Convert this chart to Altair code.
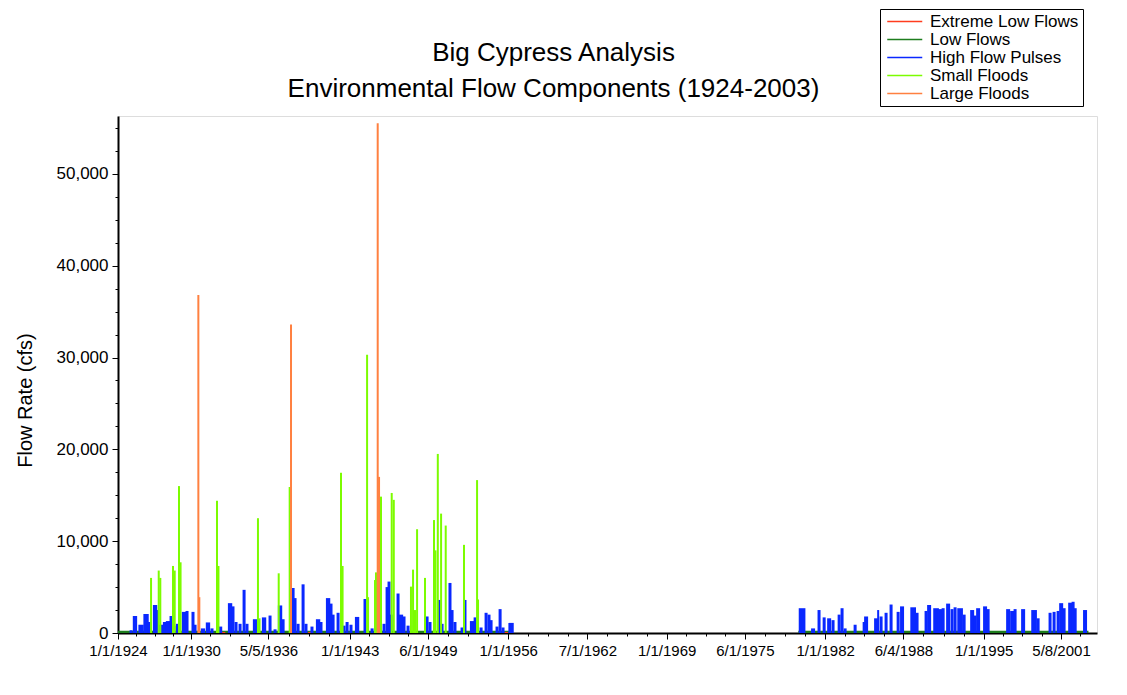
import altair as alt
import numpy as np
import pandas as pd

# ---------------- data ----------------
CATEGORIES = ["Extreme Low Flows", "Low Flows", "High Flow Pulses", "Small Floods", "Large Floods"]
COLORS = ["#FF3C1E", "#1E7D1E", "#0A28FF", "#7CFC00", "#FF8040"]

# High flow pulses, 1924-1956 (decimal year, peak cfs, duration days)
hfp_early_year = [1925.07, 1925.39, 1925.89, 1926.30, 1926.54, 1927.04, 1927.20, 1927.53, 1927.86, 1928.10,
                  1928.35, 1928.59, 1928.92, 1929.41, 1929.66, 1930.15, 1930.32, 1930.97, 1931.38, 1931.71,
                  1932.37, 1933.19, 1933.43, 1933.68, 1934.01, 1934.34, 1934.58, 1935.24, 1935.98, 1936.47,
                  1936.88, 1937.29, 1937.54, 1938.36, 1938.52, 1938.77, 1939.18, 1939.42, 1939.91, 1940.41,
                  1940.65, 1941.23, 1941.47, 1941.64, 1942.05, 1942.54, 1942.79, 1943.11, 1943.61, 1944.26,
                  1944.84, 1945.82, 1946.07, 1946.23, 1946.39, 1946.97, 1947.21, 1947.46, 1947.79, 1949.35,
                  1949.59, 1950.33, 1950.58, 1951.23, 1951.40, 1951.64, 1952.22, 1952.46, 1953.04, 1953.29,
                  1953.78, 1954.19, 1954.43, 1954.60, 1955.09, 1955.34, 1955.58, 1956.24]
hfp_early_cfs = [300, 1850, 900, 2070, 1200, 3050, 2500, 900, 1200, 1300,
                 1850, 800, 1000, 2300, 2400, 2300, 900, 500, 1150, 500,
                 700, 3250, 2900, 1200, 1000, 4700, 1000, 1500, 1700, 1900,
                 400, 3000, 1500, 4900, 3800, 1000, 5300, 1000, 700, 1500,
                 1200, 3800, 3200, 2000, 2200, 800, 1200, 900, 1750, 3700,
                 500, 1000, 5000, 5600, 2000, 4300, 2000, 1800, 800, 1800,
                 1200, 3600, 1000, 5450, 2500, 1200, 600, 3600, 1300, 1700,
                 600, 2200, 2000, 1400, 700, 2600, 600, 1100]
hfp_early_days = [90, 130, 160, 160, 90, 130, 90, 130, 130, 130,
                  90, 90, 130, 130, 90, 90, 90, 130, 130, 90,
                  130, 130, 90, 90, 90, 90, 90, 130, 130, 90,
                  90, 130, 90, 90, 90, 90, 90, 90, 90, 130,
                  90, 130, 90, 90, 90, 90, 90, 90, 130, 90,
                  90, 90, 90, 90, 90, 90, 130, 90, 90, 90,
                  90, 90, 90, 90, 90, 90, 90, 90, 130, 90,
                  90, 90, 90, 90, 90, 90, 90, 160]

# High flow pulses, 1980-2003
hfp_late_year = [1980.11, 1981.01, 1981.50, 1981.92, 1982.33, 1982.65, 1983.15, 1983.39, 1983.64, 1984.46,
                 1985.20, 1985.36, 1986.18, 1986.35, 1986.59, 1987.00, 1987.41, 1987.99, 1988.31, 1989.22,
                 1989.54, 1990.28, 1990.53, 1991.10, 1991.43, 1991.68, 1992.09, 1992.41, 1992.66, 1993.07,
                 1993.40, 1994.06, 1994.30, 1994.55, 1995.12, 1995.37, 1997.01, 1997.34, 1997.58, 1998.24,
                 1999.14, 1999.47, 2000.45, 2000.78, 2001.11, 2001.36, 2001.60, 2002.10, 2002.34, 2002.51,
                 2003.32]
hfp_late_cfs = [2700, 500, 2500, 1700, 1600, 1400, 2000, 2700, 500, 900,
                1200, 1800, 1600, 2500, 1800, 2200, 3100, 2300, 2900, 2800,
                2200, 2400, 3050, 2700, 2600, 2700, 3200, 2600, 2800, 2700,
                2000, 2500, 1900, 2700, 2900, 2600, 2600, 2400, 2600, 2600,
                2500, 1600, 2200, 2300, 2400, 3250, 2700, 3300, 3400, 2700,
                2500]
hfp_late_days = [200, 120, 90, 90, 120, 90, 90, 90, 90, 90,
                 90, 120, 120, 60, 90, 90, 90, 90, 120, 170,
                 90, 90, 120, 170, 120, 90, 120, 90, 90, 170,
                 90, 120, 90, 120, 120, 90, 120, 120, 90, 120,
                 170, 90, 90, 90, 90, 120, 90, 120, 90, 90,
                 120]

# Low flows and extreme low flows (start year, end year, cfs)
low_start = [1924.0, 1979.8]
low_end = [1956.4, 2003.6]
low_cfs = [250, 250]
xlow_start = [1932.50, 1939.60, 1945.00, 1955.70]
xlow_end = [1932.80, 1939.90, 1945.15, 1956.00]
xlow_cfs = [120, 120, 120, 120]

# Small floods (decimal year, peak cfs)
small_year = [1926.71, 1927.34, 1927.47, 1928.51, 1928.65, 1929.00, 1929.13, 1932.12, 1932.24, 1935.48,
              1935.61, 1937.18, 1938.08, 1942.29, 1942.42, 1944.43, 1944.51, 1945.08, 1945.16, 1945.57,
              1946.45, 1946.62, 1948.03, 1948.20, 1948.36, 1948.53, 1949.18, 1949.92, 1950.04, 1950.23,
              1950.50, 1950.88, 1952.38, 1953.45, 1953.53]
small_cfs = [6000, 6800, 6000, 7300, 6800, 16000, 7700, 14400, 7300, 12500,
             1600, 6500, 15900, 17450, 7300, 30300, 3900, 5770, 6600, 14850,
             15250, 14500, 5050, 6900, 2500, 11300, 6000, 12300, 9000, 19500,
             13000, 11700, 9600, 16650, 3650]

# Large floods
large_year = [1930.59, 1930.67, 1938.19, 1945.30, 1945.41]
large_cfs = [36800, 3900, 33600, 55500, 17000]

# Axis tick labels
x_major = ["1924-01-01", "1930-01-01", "1936-05-05", "1943-01-01", "1949-06-01", "1956-01-01", "1962-07-01",
           "1969-01-01", "1975-06-01", "1982-01-01", "1988-06-04", "1995-01-01", "2001-05-08"]
y_ticks = list(range(0, 55001, 2500))
x_domain = ["1924-01-01", "2004-04-20"]
y_domain = [0, 56300]


# ---------------- helpers ----------------
def yr_to_ts(y):
    yi = int(np.floor(y))
    a = pd.Timestamp(yi, 1, 1)
    b = pd.Timestamp(yi + 1, 1, 1)
    return a + (b - a) * (y - yi)


def ms(ts):
    return int(pd.Timestamp(ts).value // 10**6)


def fmt(ts):
    return ts.strftime("%Y-%m-%dT%H:%M:%SZ")


rect_rows = []
for s, e, v in zip(low_start, low_end, low_cfs, strict=True):
    rect_rows.append(dict(component="Low Flows", start=fmt(yr_to_ts(s)), end=fmt(yr_to_ts(e)), value=v, order=0))
for s, e, v in zip(xlow_start, xlow_end, xlow_cfs, strict=True):
    rect_rows.append(dict(component="Extreme Low Flows", start=fmt(yr_to_ts(s)), end=fmt(yr_to_ts(e)), value=v, order=1))
for yrs, vals, days in [(hfp_early_year, hfp_early_cfs, hfp_early_days), (hfp_late_year, hfp_late_cfs, hfp_late_days)]:
    for y, v, d in zip(yrs, vals, days, strict=True):
        c = yr_to_ts(y)
        half = pd.Timedelta(days=d / 2)
        rect_rows.append(dict(component="High Flow Pulses", start=fmt(c - half), end=fmt(c + half), value=v, order=2))
rect_df = pd.DataFrame(rect_rows)

rule_rows = []
for y, v in zip(small_year, small_cfs, strict=True):
    rule_rows.append(dict(category="Small Floods", date=fmt(yr_to_ts(y)), value=v, order=3))
for y, v in zip(large_year, large_cfs, strict=True):
    rule_rows.append(dict(category="Large Floods", date=fmt(yr_to_ts(y)), value=v, order=4))
rule_df = pd.DataFrame(rule_rows)

# tick positions: majors plus quarter-interval minor ticks
major_ms = [ms(d) for d in x_major]
tick_ms = []
for a, b in zip(major_ms[:-1], major_ms[1:]):
    for k in range(4):
        tick_ms.append(int(a + (b - a) * k / 4))
tick_ms.append(major_ms[-1])
step = (major_ms[-1] - major_ms[-2]) / 4
t = major_ms[-1] + step
while t <= ms(x_domain[1]):
    tick_ms.append(int(t))
    t += step

major_list = "[" + ",".join("'%s'" % d for d in x_major) + "]"
is_major_x = "indexof(%s, utcFormat(datum.value, '%%Y-%%m-%%d')) >= 0" % major_list

FONT = "Liberation Sans"

x_axis = alt.Axis(
    values=tick_ms,
    labelExpr="(%s) ? utcFormat(datum.value, '%%-m/%%-d/%%Y') : ''" % is_major_x,
    tickSize={"condition": {"test": is_major_x, "value": 6}, "value": 3},
    tickColor="black", domainColor="black", domainWidth=2, grid=False,
    labelFont=FONT, labelFontSize=15, labelColor="black", labelPadding=4,
    labelOverlap=False, labelFlush=False, title=None,
)
y_axis = alt.Axis(
    values=y_ticks,
    labelExpr="datum.value % 10000 === 0 ? format(datum.value, ',') : ''",
    tickSize={"condition": {"test": "datum.value % 10000 === 0", "value": 6}, "value": 3},
    tickColor="black", domainColor="black", domainWidth=2, grid=False,
    labelFont=FONT, labelFontSize=17, labelColor="black", labelPadding=4, labelOverlap=False,
    title="Flow Rate (cfs)", titleFont=FONT, titleFontSize=20, titleFontWeight="normal",
    titleColor="black", titleX=-93, titleY=284, titleAngle=270, titleAlign="center",
    titleBaseline="middle",
)

xscale = alt.Scale(type="utc", domain=[ms(x_domain[0]), ms(x_domain[1])])
yscale = alt.Scale(domain=y_domain, nice=False)

rects = alt.Chart(rect_df).mark_rect().encode(
    x=alt.X("start:T", scale=xscale, axis=x_axis),
    x2="end:T",
    y=alt.Y("value:Q", scale=yscale, axis=y_axis),
    y2=alt.datum(0),
    fill=alt.Fill("component:N", scale=alt.Scale(domain=CATEGORIES, range=COLORS), legend=None),
    order="order:Q",
)

rules = alt.Chart(rule_df).mark_rule(strokeWidth=2).encode(
    x=alt.X("date:T", scale=xscale, axis=x_axis),
    y=alt.Y("value:Q", scale=yscale, axis=y_axis),
    y2=alt.datum(0),
    stroke=alt.Stroke(
        "category:N",
        scale=alt.Scale(domain=CATEGORIES, range=COLORS),
        legend=alt.Legend(
            title=None, orient="none", legendX=762, legendY=-107,
            symbolType="M-1.5,0H8.5", symbolSize=49, symbolStrokeWidth=1.5,
            labelOffset=29, labelFont=FONT, labelFontSize=17, labelColor="black",
            strokeColor="black", fillColor="white", padding=4, rowPadding=0,
        ),
    ),
    order="order:Q",
)

chart = alt.layer(rects, rules).resolve_scale(fill="independent", stroke="independent").properties(
    width=979,
    height=517,
    autosize=alt.AutoSizeParams(type="none"),
    padding={"left": 110, "top": 108, "right": 20, "bottom": 50},
    title=alt.Title(
        ["Big Cypress Analysis", "Environmental Flow Components (1924-2003)"],
        font=FONT, fontSize=26, fontWeight="normal", color="black",
        anchor="middle", dx=-54, offset=-93, lineHeight=36,
    ),
).configure_view(stroke="#444444", strokeWidth=1.5).configure(background="white")

chart.save("out.html", embed_options={"renderer": "svg", "actions": False})
